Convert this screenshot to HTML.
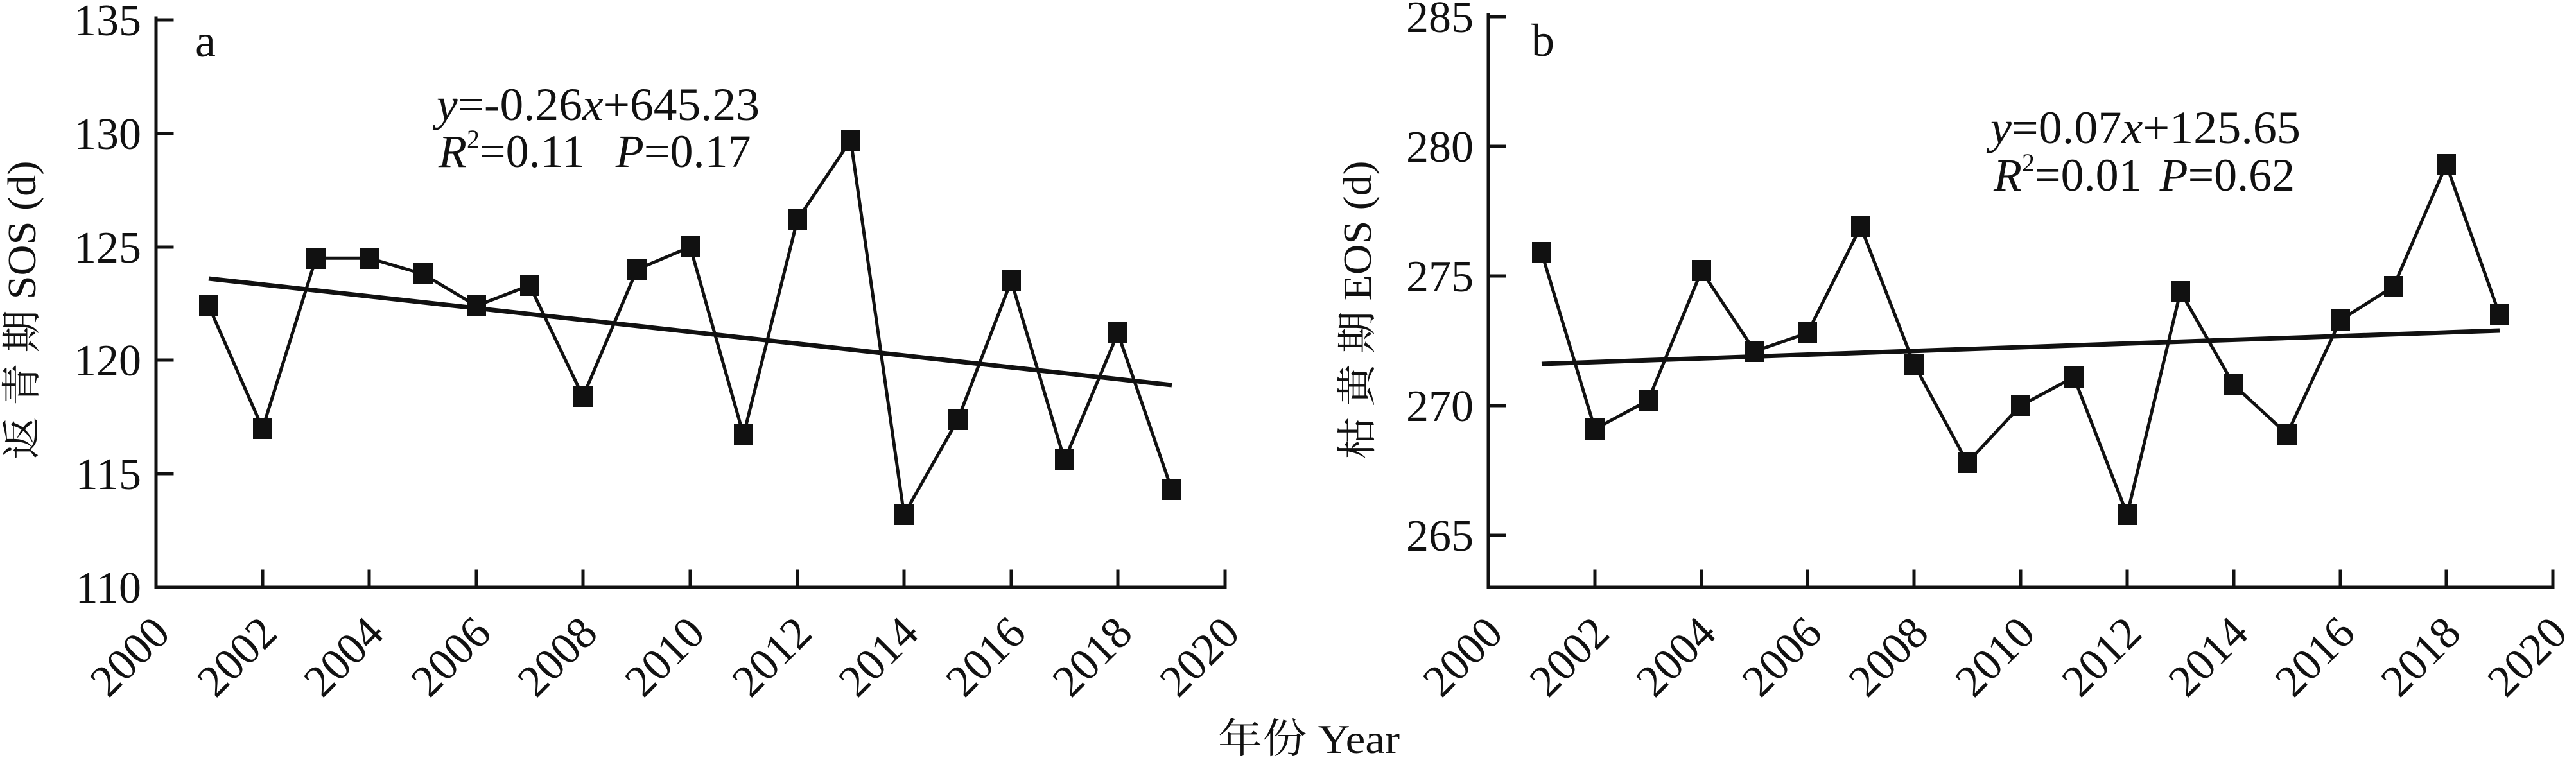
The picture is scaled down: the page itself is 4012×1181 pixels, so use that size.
<!DOCTYPE html>
<html><head><meta charset="utf-8"><style>
html,body{margin:0;padding:0;background:#fff;}
svg{display:block;}
</style></head><body>
<svg width="4012" height="1181" viewBox="0 0 4012 1181" xmlns="http://www.w3.org/2000/svg" font-family="'Liberation Serif', 'Noto Serif CJK SC', serif" fill="#111">
<g stroke="#111" fill="none" stroke-linecap="square">
<path d="M243 28 V915 H1908" stroke-width="5"/>
<path d="M243 31 H268 M243 208 H268 M243 385 H268 M243 561 H268 M243 738 H268" stroke-width="5"/>
<path d="M409 915 V890 M575 915 V890 M742 915 V890 M908 915 V890 M1075 915 V890 M1242 915 V890 M1408 915 V890 M1575 915 V890 M1741 915 V890 M1908 915 V890" stroke-width="5"/>
<path d="M2318 23 V915 H3976" stroke-width="5"/>
<path d="M2318 26 H2343 M2318 228 H2343 M2318 430 H2343 M2318 632 H2343 M2318 834 H2343" stroke-width="5"/>
<path d="M2484 915 V890 M2650 915 V890 M2815 915 V890 M2981 915 V890 M3147 915 V890 M3313 915 V890 M3479 915 V890 M3645 915 V890 M3810 915 V890 M3976 915 V890" stroke-width="5"/>
</g>
<polyline fill="none" stroke="#111" stroke-width="5" points="325,476.5 409,667.5 492,402.3 575,402.3 659,427 742,476.5 825,444.7 908,618 992,419.9 1075,384.6 1158,678.1 1242,342.2 1325,218.4 1408,801.8 1492,653.3 1575,437.6 1658,717 1741,519 1825,762.9"/>
<line x1="325" y1="434" x2="1825" y2="600" stroke="#111" stroke-width="7"/>
<g fill="#111">
<rect x="310" y="460" width="30" height="33"/><rect x="394" y="651" width="30" height="33"/><rect x="477" y="386" width="30" height="33"/><rect x="560" y="386" width="30" height="33"/><rect x="644" y="410" width="30" height="33"/><rect x="727" y="460" width="30" height="33"/><rect x="810" y="428" width="30" height="33"/><rect x="893" y="601" width="30" height="33"/><rect x="977" y="403" width="30" height="33"/><rect x="1060" y="368" width="30" height="33"/><rect x="1143" y="661" width="30" height="33"/><rect x="1227" y="325" width="30" height="33"/><rect x="1310" y="202" width="30" height="33"/><rect x="1393" y="785" width="30" height="33"/><rect x="1477" y="637" width="30" height="33"/><rect x="1560" y="421" width="30" height="33"/><rect x="1643" y="700" width="30" height="33"/><rect x="1726" y="502" width="30" height="33"/><rect x="1810" y="746" width="30" height="33"/>
</g>
<polyline fill="none" stroke="#111" stroke-width="5" points="2401,393.6 2484,668.4 2567,623.9 2650,421.9 2733,547.2 2815,518.9 2898,353.2 2981,567.4 3064,720.9 3147,632 3230,587.6 3313,801.7 3396,454.2 3479,599.7 3562,676.4 3645,498.7 3728,446.2 3810,256.3 3893,490.6"/>
<line x1="2401" y1="567" x2="3893" y2="515" stroke="#111" stroke-width="7"/>
<g fill="#111">
<rect x="2386" y="377" width="30" height="33"/><rect x="2469" y="652" width="30" height="33"/><rect x="2552" y="607" width="30" height="33"/><rect x="2635" y="405" width="30" height="33"/><rect x="2718" y="531" width="30" height="33"/><rect x="2800" y="502" width="30" height="33"/><rect x="2883" y="337" width="30" height="33"/><rect x="2966" y="551" width="30" height="33"/><rect x="3049" y="704" width="30" height="33"/><rect x="3132" y="615" width="30" height="33"/><rect x="3215" y="571" width="30" height="33"/><rect x="3298" y="785" width="30" height="33"/><rect x="3381" y="438" width="30" height="33"/><rect x="3464" y="583" width="30" height="33"/><rect x="3547" y="660" width="30" height="33"/><rect x="3630" y="482" width="30" height="33"/><rect x="3713" y="430" width="30" height="33"/><rect x="3795" y="240" width="30" height="33"/><rect x="3878" y="474" width="30" height="33"/>
</g>
<g font-size="70" text-anchor="end" font-family="'Liberation Serif', serif">
<text x="220" y="55">135</text><text x="220" y="232">130</text><text x="220" y="409">125</text><text x="220" y="585">120</text><text x="220" y="762">115</text><text x="220" y="939">110</text>
<text x="2295" y="50">285</text><text x="2295" y="252">280</text><text x="2295" y="454">275</text><text x="2295" y="656">270</text><text x="2295" y="858">265</text>
</g>
<g font-size="70" text-anchor="end" font-family="'Liberation Serif', serif">
<text transform="translate(268,990) rotate(-45)">2000</text>
<text transform="translate(435,990) rotate(-45)">2002</text>
<text transform="translate(601,990) rotate(-45)">2004</text>
<text transform="translate(768,990) rotate(-45)">2006</text>
<text transform="translate(934,990) rotate(-45)">2008</text>
<text transform="translate(1101,990) rotate(-45)">2010</text>
<text transform="translate(1268,990) rotate(-45)">2012</text>
<text transform="translate(1434,990) rotate(-45)">2014</text>
<text transform="translate(1601,990) rotate(-45)">2016</text>
<text transform="translate(1767,990) rotate(-45)">2018</text>
<text transform="translate(1934,990) rotate(-45)">2020</text>
<text transform="translate(2344,990) rotate(-45)">2000</text>
<text transform="translate(2510,990) rotate(-45)">2002</text>
<text transform="translate(2676,990) rotate(-45)">2004</text>
<text transform="translate(2841,990) rotate(-45)">2006</text>
<text transform="translate(3007,990) rotate(-45)">2008</text>
<text transform="translate(3173,990) rotate(-45)">2010</text>
<text transform="translate(3339,990) rotate(-45)">2012</text>
<text transform="translate(3505,990) rotate(-45)">2014</text>
<text transform="translate(3671,990) rotate(-45)">2016</text>
<text transform="translate(3836,990) rotate(-45)">2018</text>
<text transform="translate(4002,990) rotate(-45)">2020</text>
</g>
<g font-family="'Liberation Serif', serif">
<text x="304" y="88" font-size="72">a</text>
<text x="2385" y="87" font-size="72">b</text>
</g>
<g font-size="72" font-family="'Liberation Serif', serif">
<text x="680" y="187" textLength="503" lengthAdjust="spacingAndGlyphs"><tspan font-style="italic">y</tspan>=-0.26<tspan font-style="italic">x</tspan>+645.23</text>
<text x="683" y="260"><tspan font-style="italic">R</tspan><tspan font-size="40" dy="-30">2</tspan><tspan dy="30">=0.11 </tspan><tspan dx="30" font-style="italic">P</tspan>=0.17</text>
<text x="3100" y="223" textLength="483" lengthAdjust="spacingAndGlyphs"><tspan font-style="italic">y</tspan>=0.07<tspan font-style="italic">x</tspan>+125.65</text>
<text x="3105" y="297"><tspan font-style="italic">R</tspan><tspan font-size="40" dy="-30">2</tspan><tspan dy="30">=0.01 </tspan><tspan dx="10" font-style="italic">P</tspan>=0.62</text>
</g>
<g font-family="'Liberation Serif', 'Noto Serif CJK SC', serif">
<text transform="translate(55,483) rotate(-90)" font-size="62" text-anchor="middle" textLength="465" lengthAdjust="spacingAndGlyphs">返 青 期 SOS (d)</text>
<text transform="translate(2135,483) rotate(-90)" font-size="62" text-anchor="middle" textLength="465" lengthAdjust="spacingAndGlyphs">枯 黄 期 EOS (d)</text>
<text x="1897" y="1173" font-size="64" textLength="283" lengthAdjust="spacingAndGlyphs">年份 Year</text>
</g>
</svg>
</body></html>
